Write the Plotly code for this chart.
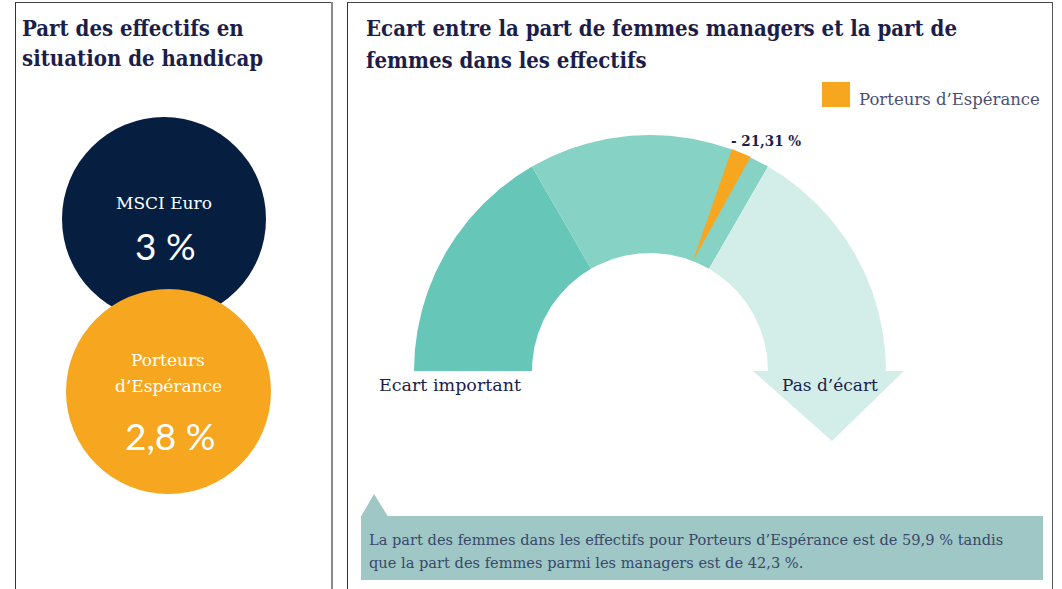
import numpy as np
import plotly.graph_objects as go

# ---------------- data ----------------
handicap_labels = ["MSCI Euro", "Porteurs<br>d’Espérance"]
handicap_values = [3.0, 2.8]

gauge_bounds = [-57, -38, -19, 0]          # bands: écart important -> pas d'écart
gauge_end_labels = ["Ecart important", "Pas d’écart"]
gap_value = -21.31
gap_series = "Porteurs d’Espérance"

women_share_workforce = 59.9
women_share_managers = 42.3

# ---------------- styles ----------------
W, H = 1062, 589
NAVY = "#061f41"
ORANGE = "#f7a61f"
TXT = "#1c1e4a"
SOFT_TXT = "#4b4f74"
BAND_COLORS = ["#66c6b8", "#86d2c4", "#d3eee8"]
BOX = "#9fc7c6"
SERIF = "DejaVu Serif"
SERIF_C = "DejaVu Serif Condensed"


def fr(v, d=1):
    return f"{v:.{d}f}".replace(".", ",")


def fr_auto(v):
    return fr(v, 0) if float(v).is_integer() else fr(v, 1)


gmin, gmax = gauge_bounds[0], gauge_bounds[-1]


def ang(v):
    return np.pi * (1 - (v - gmin) / (gmax - gmin))


INNER = 0.5
fig = go.Figure()

# gauge bands
for i in range(len(gauge_bounds) - 1):
    t = np.linspace(ang(gauge_bounds[i]), ang(gauge_bounds[i + 1]), 120)
    xo, yo = np.cos(t), np.sin(t)
    xi, yi = INNER * np.cos(t[::-1]), INNER * np.sin(t[::-1])
    if i == len(gauge_bounds) - 2:
        # last band continues into an arrow head
        mid = (1 + INNER) / 2
        ax = [1.076, mid + 0.021, INNER - 0.064]
        ay = [0.0, -0.297, 0.0]
        xs = np.concatenate([xo, ax, xi])
        ys = np.concatenate([yo, ay, yi])
    else:
        xs = np.concatenate([xo, xi])
        ys = np.concatenate([yo, yi])
    fig.add_trace(go.Scatter(x=xs, y=ys, xaxis="x2", yaxis="y2", mode="lines",
                             fill="toself", fillcolor=BAND_COLORS[i],
                             line=dict(width=0, color=BAND_COLORS[i]),
                             hoverinfo="skip", showlegend=False))

# needle wedge for the gap value
th = ang(gap_value)
hw = np.radians(2.45)
tip = np.radians(1.4)
nx = [INNER * np.cos(th + tip), 1.003 * np.cos(th + hw), 1.003 * np.cos(th - hw)]
ny = [INNER * np.sin(th + tip), 1.003 * np.sin(th + hw), 1.003 * np.sin(th - hw)]
fig.add_trace(go.Scatter(x=nx, y=ny, xaxis="x2", yaxis="y2", mode="lines",
                         fill="toself", fillcolor=ORANGE,
                         line=dict(width=0, color=ORANGE),
                         name=gap_series, hoverinfo="skip", showlegend=False))

annotations = []


def px_text(x, y, text, size, color=TXT, family=SERIF, xanchor="left",
            yanchor="middle", bold=False, align="left"):
    annotations.append(dict(x=x, y=y, xref="x", yref="y", text=text, showarrow=False,
                            xanchor=xanchor, yanchor=yanchor, align=align,
                            font=dict(size=size, color=color, family=family,
                                      weight="bold" if bold else "normal")))


# gap label
annotations.append(dict(x=np.cos(th), y=np.sin(th), xref="x2", yref="y2",
                        text=f"- {fr(abs(gap_value), 2)} %", showarrow=False,
                        xanchor="left", yanchor="bottom", xshift=-12, yshift=1,
                        font=dict(size=15, color=TXT, family=SERIF_C, weight="bold")))

# titles
px_text(20, 28, "Part des effectifs en", 22, family=SERIF_C, bold=True)
px_text(20, 58, "situation de handicap", 22, family=SERIF_C, bold=True)
px_text(364, 28, "Ecart entre la part de femmes managers et la part de", 22,
        family=SERIF_C, bold=True)
px_text(364, 60, "femmes dans les effectifs", 22, family=SERIF_C, bold=True)

# circles text
px_text(164, 203, handicap_labels[0], 17, color="white", xanchor="center")
px_text(165, 245, f"{fr_auto(handicap_values[0])} %", 37, color="white",
        family="Lato", xanchor="center")
for k, line in enumerate(handicap_labels[1].split("<br>")):
    px_text(168, 360 + 26 * k, line, 17, color="white", xanchor="center")
px_text(170, 435, f"{fr_auto(handicap_values[1])} %", 37, color="white",
        family="Lato", xanchor="center")

# gauge end labels
px_text(450, 385, gauge_end_labels[0], 17.5, xanchor="center")
px_text(830, 385, gauge_end_labels[1], 17, xanchor="center")

# legend
px_text(857, 99, gap_series, 16.5, color=SOFT_TXT)

# comment box text
px_text(367, 539, f"La part des femmes dans les effectifs pour {gap_series} est de "
        f"{fr(women_share_workforce)} % tandis", 14.6, color="#3a4869")
px_text(367, 562, f"que la part des femmes parmi les managers est de "
        f"{fr(women_share_managers)} %.", 14.6, color="#3a4869")

shapes = [
    # panel borders
    dict(type="line", x0=15.5, x1=15.5, y0=2, y1=600, line=dict(color="#333333", width=1)),
    dict(type="line", x0=15, x1=333, y0=2.5, y1=2.5, line=dict(color="#444444", width=1)),
    dict(type="line", x0=332, x1=332, y0=2, y1=600, line=dict(color="#8a8a8a", width=2)),
    dict(type="line", x0=347.5, x1=347.5, y0=2, y1=600, line=dict(color="#333333", width=1)),
    dict(type="line", x0=347, x1=1053, y0=2.5, y1=2.5, line=dict(color="#444444", width=1)),
    dict(type="line", x0=1052.5, x1=1052.5, y0=2, y1=600, line=dict(color="#555555", width=1)),
    # circles
    dict(type="circle", x0=62, x1=266, y0=117, y1=321, fillcolor=NAVY, line=dict(width=0)),
    dict(type="circle", x0=66, x1=271, y0=289, y1=494, fillcolor=ORANGE, line=dict(width=0)),
    # legend square
    dict(type="rect", x0=822, x1=850, y0=82, y1=107, fillcolor=ORANGE, line=dict(width=0)),
    # comment box with pointer
    dict(type="rect", x0=361, x1=1043, y0=516, y1=580, fillcolor=BOX, line=dict(width=0)),
    dict(type="path", path="M 361 516.5 L 374 494 L 388 516.5 Z", fillcolor=BOX,
         line=dict(width=0)),
]
for s in shapes:
    s["xref"] = "x"
    s["yref"] = "y"
    s["layer"] = "above"

gx0, gx1 = 390, 910
gy_top, gy_bot = 111, 451
RPX, CX, CY = 236, 650, 371

fig.update_layout(
    width=W, height=H, margin=dict(l=0, r=0, t=0, b=0),
    paper_bgcolor="white", plot_bgcolor="rgba(0,0,0,0)",
    showlegend=False,
    xaxis=dict(domain=[0, 1], range=[0, W], visible=False, fixedrange=True),
    yaxis=dict(domain=[0, 1], range=[H, 0], visible=False, fixedrange=True),
    xaxis2=dict(domain=[gx0 / W, gx1 / W], range=[(gx0 - CX) / RPX, (gx1 - CX) / RPX],
                visible=False, fixedrange=True, anchor="y2"),
    yaxis2=dict(domain=[(H - gy_bot) / H, (H - gy_top) / H],
                range=[(CY - gy_bot) / RPX, (CY - gy_top) / RPX],
                visible=False, fixedrange=True, anchor="x2"),
    shapes=shapes,
    annotations=annotations,
)

fig.write_html("out.html", config={"displayModeBar": False},
               post_script="document.body.style.margin='0px';document.body.style.overflow='hidden';")
